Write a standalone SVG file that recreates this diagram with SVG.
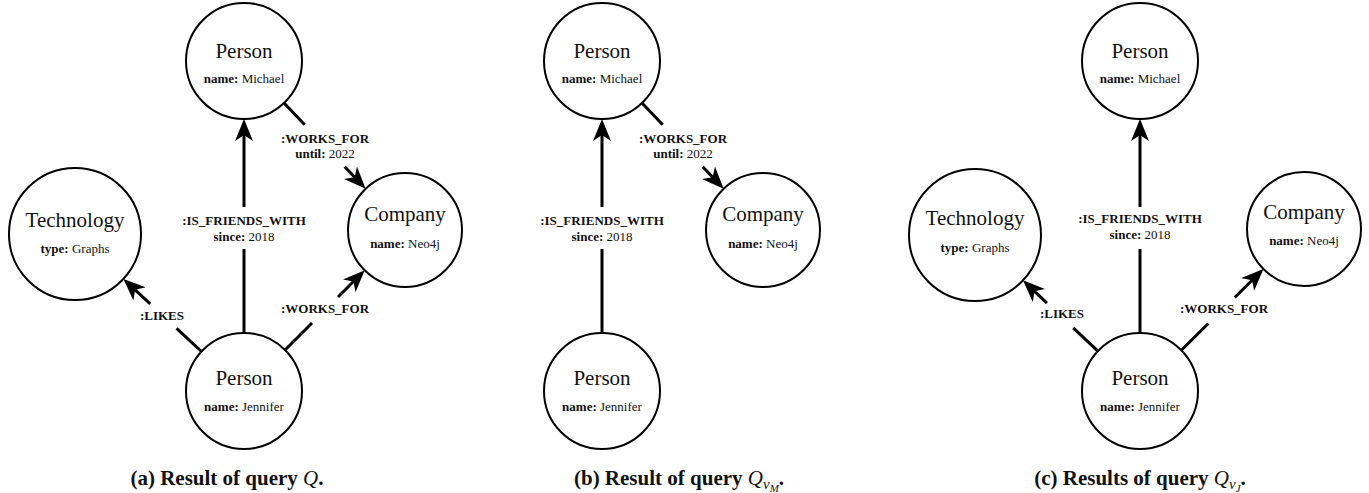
<svg xmlns="http://www.w3.org/2000/svg" width="1369" height="493" viewBox="0 0 1369 493">
<style>
.node{fill:#fff;stroke:#000;stroke-width:2}
.title{font-family:"Liberation Serif",serif;font-size:21px;fill:#111;text-anchor:middle}
.prop{font-family:"Liberation Serif",serif;font-size:13px;fill:#111;text-anchor:middle}
.b{font-weight:bold}
.edge{stroke:#000;stroke-width:3;fill:none}
.elabel{font-family:"Liberation Serif",serif;font-size:13px;fill:#111;text-anchor:middle}
.cap{font-family:"Liberation Serif",serif;font-size:21px;font-weight:bold;fill:#111;text-anchor:middle}
.it{font-style:italic;font-weight:normal}
</style>
<defs>
<marker id="arr" viewBox="0 0 22 18" refX="17" refY="9" markerWidth="22" markerHeight="18" markerUnits="userSpaceOnUse" orient="auto">
<path d="M0,0 L22,9 L0,18 L6,9 Z" fill="#000"/>
</marker>
</defs>
<rect width="1369" height="493" fill="#fff"/>

<!-- Panel (a) -->
<g id="a-connectors">
<line class="edge" x1="244" y1="333" x2="244" y2="249"/>
<line class="edge" x1="244" y1="207" x2="244" y2="124" marker-end="url(#arr)"/>
<text class="elabel" x="244" y="225"><tspan class="b">:IS_FRIENDS_WITH</tspan></text>
<text class="elabel" x="244" y="241"><tspan class="b">since:</tspan> 2018</text>
<line class="edge" x1="201.5" y1="351.5" x2="176.6" y2="328.4"/>
<line class="edge" x1="150.2" y1="303.9" x2="127.1" y2="282.3" marker-end="url(#arr)"/>
<text class="elabel b" x="162" y="320">:LIKES</text>
<line class="edge" x1="285" y1="350" x2="312" y2="323"/>
<line class="edge" x1="338" y1="297" x2="361.2" y2="273.8" marker-end="url(#arr)"/>
<text class="elabel b" x="325" y="313">:WORKS_FOR</text>
<line class="edge" x1="284" y1="103" x2="304.7" y2="124.7"/>
<line class="edge" x1="344.7" y1="166.7" x2="362.2" y2="185.1" marker-end="url(#arr)"/>
<text class="elabel b" x="325" y="143">:WORKS_FOR</text>
<text class="elabel" x="325" y="158"><tspan class="b">until:</tspan> 2022</text>
</g>
<g id="a-michael">
<circle class="node" cx="244" cy="61" r="58"/>
<text class="title" x="244" y="58">Person</text>
<text class="prop" x="244" y="83"><tspan class="b">name:</tspan> Michael</text>
</g>
<g id="a-technology">
<circle class="node" cx="75" cy="234" r="66"/>
<text class="title" x="75" y="227">Technology</text>
<text class="prop" x="75" y="253"><tspan class="b">type:</tspan> Graphs</text>
</g>
<g id="a-company">
<circle class="node" cx="405" cy="230" r="57"/>
<text class="title" x="405" y="221">Company</text>
<text class="prop" x="405" y="248"><tspan class="b">name:</tspan> Neo4j</text>
</g>
<g id="a-jennifer">
<circle class="node" cx="244" cy="391" r="58"/>
<text class="title" x="244" y="385">Person</text>
<text class="prop" x="244" y="411"><tspan class="b">name:</tspan> Jennifer</text>
</g>
<text class="cap" x="227" y="485">(a) Result of query <tspan class="it">Q</tspan>.</text>

<!-- Panel (b) -->
<g id="b-connectors">
<line class="edge" x1="602" y1="333" x2="602" y2="249"/>
<line class="edge" x1="602" y1="207" x2="602" y2="124" marker-end="url(#arr)"/>
<text class="elabel" x="602" y="225"><tspan class="b">:IS_FRIENDS_WITH</tspan></text>
<text class="elabel" x="602" y="241"><tspan class="b">since:</tspan> 2018</text>
<line class="edge" x1="642" y1="103" x2="662.7" y2="124.7"/>
<line class="edge" x1="702.7" y1="166.7" x2="720.2" y2="185.1" marker-end="url(#arr)"/>
<text class="elabel b" x="683" y="143">:WORKS_FOR</text>
<text class="elabel" x="683" y="158"><tspan class="b">until:</tspan> 2022</text>
</g>
<g id="b-michael">
<circle class="node" cx="602" cy="61" r="58"/>
<text class="title" x="602" y="58">Person</text>
<text class="prop" x="602" y="83"><tspan class="b">name:</tspan> Michael</text>
</g>
<g id="b-company">
<circle class="node" cx="763" cy="230" r="57"/>
<text class="title" x="763" y="221">Company</text>
<text class="prop" x="763" y="248"><tspan class="b">name:</tspan> Neo4j</text>
</g>
<g id="b-jennifer">
<circle class="node" cx="602" cy="391" r="58"/>
<text class="title" x="602" y="385">Person</text>
<text class="prop" x="602" y="411"><tspan class="b">name:</tspan> Jennifer</text>
</g>
<text class="cap" x="679" y="485">(b) Result of query <tspan class="it">Q</tspan><tspan class="it" font-size="15" dy="4">v</tspan><tspan class="it" font-size="11" dy="3">M</tspan><tspan dy="-7">.</tspan></text>

<!-- Panel (c) -->
<g id="c-connectors">
<line class="edge" x1="1140" y1="333" x2="1140" y2="249"/>
<line class="edge" x1="1140" y1="207" x2="1140" y2="124" marker-end="url(#arr)"/>
<text class="elabel" x="1140" y="223"><tspan class="b">:IS_FRIENDS_WITH</tspan></text>
<text class="elabel" x="1140" y="239"><tspan class="b">since:</tspan> 2018</text>
<line class="edge" x1="1097.9" y1="351.2" x2="1073.2" y2="327.8"/>
<line class="edge" x1="1047" y1="303.1" x2="1026.6" y2="283.8" marker-end="url(#arr)"/>
<text class="elabel b" x="1062" y="318">:LIKES</text>
<line class="edge" x1="1181.3" y1="350.2" x2="1208.3" y2="323.5"/>
<line class="edge" x1="1234.7" y1="297.5" x2="1259.9" y2="272.5" marker-end="url(#arr)"/>
<text class="elabel b" x="1224" y="313">:WORKS_FOR</text>
</g>
<g id="c-michael">
<circle class="node" cx="1140" cy="61" r="58"/>
<text class="title" x="1140" y="58">Person</text>
<text class="prop" x="1140" y="83"><tspan class="b">name:</tspan> Michael</text>
</g>
<g id="c-technology">
<circle class="node" cx="975" cy="235" r="66"/>
<text class="title" x="975" y="225">Technology</text>
<text class="prop" x="975" y="252"><tspan class="b">type:</tspan> Graphs</text>
</g>
<g id="c-company">
<circle class="node" cx="1304" cy="229" r="57"/>
<text class="title" x="1304" y="219">Company</text>
<text class="prop" x="1304" y="245"><tspan class="b">name:</tspan> Neo4j</text>
</g>
<g id="c-jennifer">
<circle class="node" cx="1140" cy="391" r="58"/>
<text class="title" x="1140" y="385">Person</text>
<text class="prop" x="1140" y="411"><tspan class="b">name:</tspan> Jennifer</text>
</g>
<text class="cap" x="1140" y="485">(c) Results of query <tspan class="it">Q</tspan><tspan class="it" font-size="15" dy="4">v</tspan><tspan class="it" font-size="11" dy="3">J</tspan><tspan dy="-7">.</tspan></text>
</svg>
